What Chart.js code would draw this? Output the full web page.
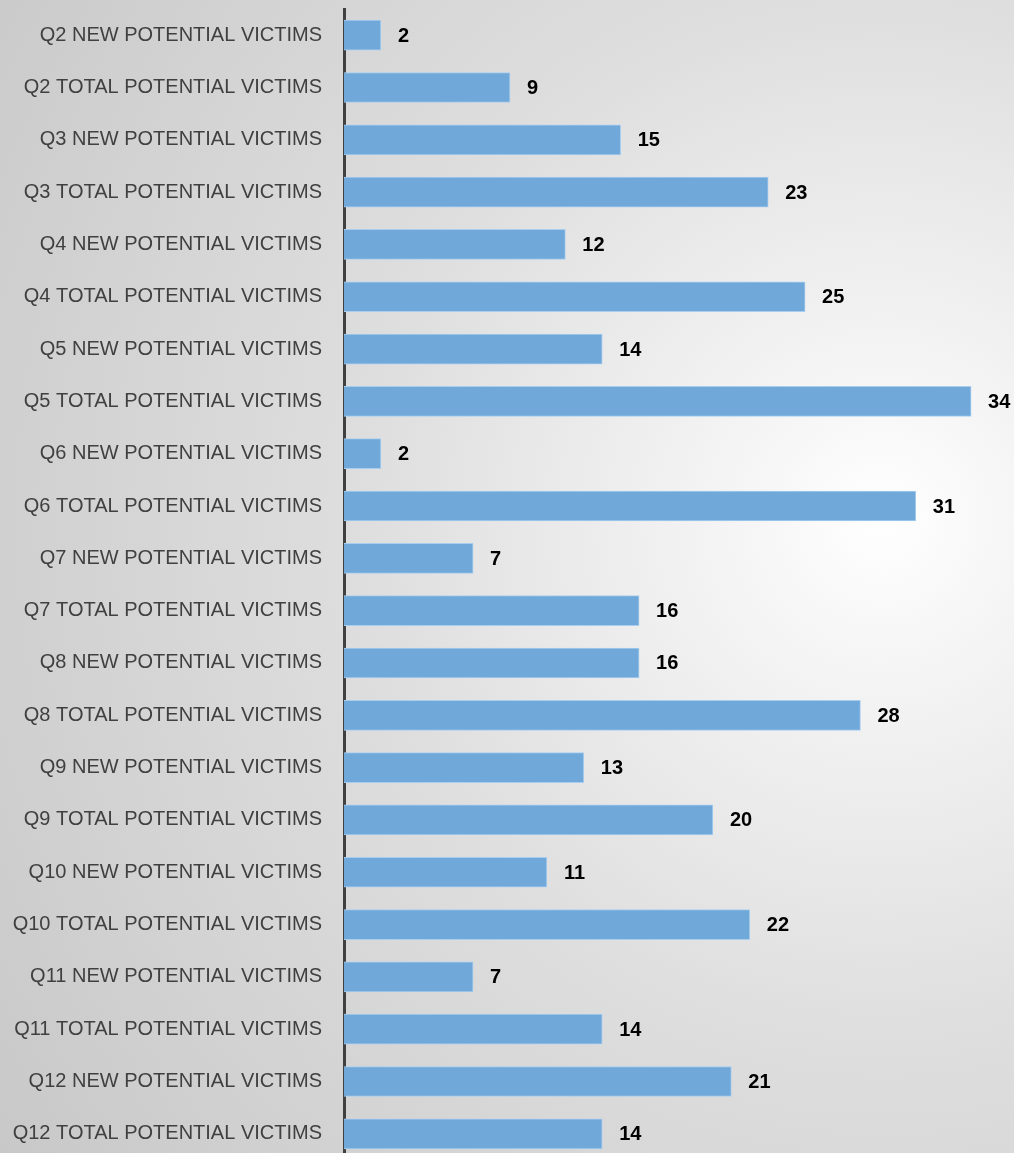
<!DOCTYPE html>
<html>
<head>
<meta charset="utf-8">
<script src="https://cdn.jsdelivr.net/npm/chart.js@4.4.0/dist/chart.umd.min.js"></script>
<style>
    html, body {
        margin: 0;
        padding: 0;
        overflow: hidden;
        width: 1014px;
        height: 1153px;
        background: radial-gradient(circle at 87% 45%, #ffffff 0%, #f6f6f6 12%, #dedede 48%, #c8c8c8 100%);
    }
    canvas { display: block; margin-top: -25px; }
</style>
</head>
<body>
<canvas id="victimsChart" width="1014" height="1219"></canvas>
<script>
// Etiquetas de cada trimestre
const categorias = [
    'Q2 NEW POTENTIAL VICTIMS', 'Q2 TOTAL POTENTIAL VICTIMS',
    'Q3 NEW POTENTIAL VICTIMS', 'Q3 TOTAL POTENTIAL VICTIMS',
    'Q4 NEW POTENTIAL VICTIMS', 'Q4 TOTAL POTENTIAL VICTIMS',
    'Q5 NEW POTENTIAL VICTIMS', 'Q5 TOTAL POTENTIAL VICTIMS',
    'Q6 NEW POTENTIAL VICTIMS', 'Q6 TOTAL POTENTIAL VICTIMS',
    'Q7 NEW POTENTIAL VICTIMS', 'Q7 TOTAL POTENTIAL VICTIMS',
    'Q8 NEW POTENTIAL VICTIMS', 'Q8 TOTAL POTENTIAL VICTIMS',
    'Q9 NEW POTENTIAL VICTIMS', 'Q9 TOTAL POTENTIAL VICTIMS',
    'Q10 NEW POTENTIAL VICTIMS', 'Q10 TOTAL POTENTIAL VICTIMS',
    'Q11 NEW POTENTIAL VICTIMS', 'Q11 TOTAL POTENTIAL VICTIMS',
    'Q12 NEW POTENTIAL VICTIMS', 'Q12 TOTAL POTENTIAL VICTIMS'
];

// Valores por categoría
const valores = [2, 9, 15, 23, 12, 25, 14, 34, 2, 31, 7, 16, 16, 28, 13, 20, 11, 22, 7, 14, 21, 14];

const ejeMin = 0;
const ejeMax = 36;

// Números en negrita al final de cada barra
const etiquetasValor = {
    id: 'etiquetasValor',
    afterDatasetsDraw(chart) {
        const ctx = chart.ctx;
        const meta = chart.getDatasetMeta(0);
        ctx.save();
        ctx.font = 'bold 20px "Liberation Sans", Arial, sans-serif';
        ctx.fillStyle = '#000000';
        ctx.textAlign = 'left';
        ctx.textBaseline = 'middle';
        meta.data.forEach((barra, i) => {
            ctx.fillText(String(valores[i]), barra.x + 17, barra.y + 1);
        });
        ctx.restore();
    }
};

const ctx = document.getElementById('victimsChart').getContext('2d');
new Chart(ctx, {
    type: 'bar',
    data: {
        labels: categorias,
        datasets: [{
            data: valores,
            backgroundColor: '#71a8da',
            borderColor: '#a8cdef',
            borderWidth: 1,
            barThickness: 30
        }]
    },
    options: {
        indexAxis: 'y',
        responsive: false,
        animation: false,
        layout: {
            padding: { top: 8, right: 6, bottom: 1, left: 0 }
        },
        plugins: {
            legend: { display: false },
            tooltip: { enabled: false }
        },
        scales: {
            x: {
                display: false,
                min: ejeMin,
                max: ejeMax
            },
            y: {
                afterFit(scale) {
                    scale.width = 344;
                },
                grid: { display: false, drawTicks: false },
                border: { display: true, color: '#404040', width: 3 },
                ticks: {
                    padding: 22,
                    color: '#404040',
                    font: { family: '"Liberation Sans", Arial, sans-serif', size: 20 }
                }
            }
        }
    },
    plugins: [etiquetasValor]
});
</script>
</body>
</html>
